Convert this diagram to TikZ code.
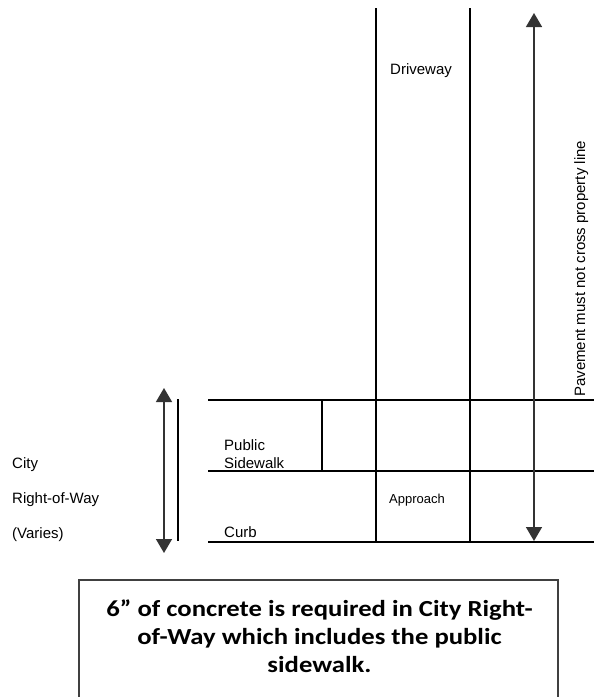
\documentclass[tikz,border=0pt]{standalone}
\usepackage{fontspec}
\setmainfont{Liberation Sans}
\newfontfamily\notefont[FakeStretch=1.16]{Carlito}
\usetikzlibrary{arrows.meta}

\begin{document}
\begin{tikzpicture}[x=1pt,y=-1pt,
    edge/.style={line width=2.2pt},
    dim/.style={line width=1.5pt, draw=black!80,
      {Triangle[width=16pt,length=14pt]}-{Triangle[width=16pt,length=14pt]}},
    lbl/.style={font=\fontsize{15}{18}\selectfont, inner sep=0pt, anchor=base west}]
  \useasboundingbox (0,0) rectangle (594,697);
  \clip (0,0) rectangle (594,697);

  % sidewalk, curb and driveway lines
  \draw[edge] (208,400) -- (594,400);
  \draw[edge] (208,471) -- (594,471);
  \draw[edge] (208,542) -- (594,542);
  \draw[edge] (322,400) -- (322,471);
  \draw[edge] (376,8) -- (376,542);
  \draw[edge] (470,8) -- (470,542);
  \draw[edge] (178,399) -- (178,541);

  % dimension arrows
  \coordinate (row top) at (164,388);
  \coordinate (row bot) at (164,553);
  \coordinate (prop top) at (534,13);
  \coordinate (prop bot) at (534,541);
  \draw[dim] (row top) -- (row bot);
  \draw[dim] (prop top) -- (prop bot);

  % labels
  \node[lbl] (city) at (12,468) {City};
  \node[lbl] (row) at (12,503) {Right-of-Way};
  \node[lbl] (varies) at (12,538) {(Varies)};
  \node[lbl, anchor=north west, align=left] (sidewalk) at (224,439) {Public\\Sidewalk};
  \node[lbl] (curb) at (224,537) {Curb};
  \node[lbl, font=\fontsize{13}{15}\selectfont] (approach) at (389,503) {Approach};
  \node[lbl] (driveway) at (390,74) {Driveway};
  \node[lbl, rotate=90] (prop) at (585,397) {Pavement must not cross property line};

  % note box
  \draw[line width=1.2pt, draw=black!75] (79,580) rectangle (558,720);
  \node[font=\notefont\bfseries\fontsize{23}{28}\selectfont, align=center, inner sep=0pt, anchor=north]
    (note) at (319.5,600) {6” of concrete is required in City Right-\\of-Way which includes the public\\sidewalk.};
\end{tikzpicture}
\end{document}
